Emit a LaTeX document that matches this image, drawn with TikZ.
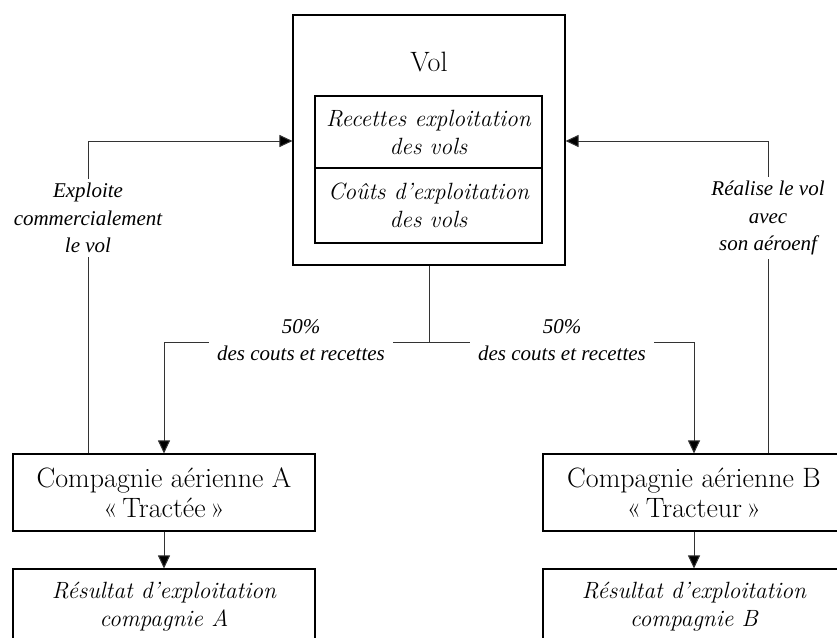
\documentclass[tikz,border=0pt]{standalone}
\usepackage{fontspec}
\newfontfamily\labfont{Liberation Serif Italic}
\usetikzlibrary{arrows.meta}
\begin{document}
\begin{tikzpicture}[x=1pt,y=-1pt,
  box/.style={draw=black,line width=1.1pt,inner sep=0pt,align=center},
  title/.style={font=\fontsize{28}{30}\selectfont,align=center,inner sep=0pt},
  itext/.style={font=\fontsize{23.5}{28}\selectfont\itshape,align=center},
  link/.style={draw=black!80,line width=1pt},
  arr/.style={link,-{Triangle[length=13pt,width=12pt,fill=black]}},
  lab/.style={fill=white,inner xsep=8pt,inner ysep=4pt,align=center,
    font=\labfont\fontsize{21}{27.5}\selectfont}]
\useasboundingbox (0,0) rectangle (837,637);

% flight block with its two accounts
\node[box,minimum width=272pt,minimum height=250pt] (vol) at (429,140) {};
\node[title] (voltitle) at (429,62) {Vol};
\node[box,itext,minimum width=227pt,minimum height=72pt] (rec) at (428.5,132)
  {Recettes exploitation\\des vols};
\node[box,itext,minimum width=227pt,minimum height=75pt] (cout) at (428.5,205.5)
  {Co\^uts d'exploitation\\des vols};

% airlines
\node[box,title,minimum width=302pt,minimum height=77pt] (a) at (164,492.5)
  {Compagnie a\'erienne A\\\guillemotleft\,Tract\'ee\,\guillemotright};
\node[box,title,minimum width=302pt,minimum height=77pt] (b) at (694,492.5)
  {Compagnie a\'erienne B\\\guillemotleft\,Tracteur\,\guillemotright};

% operating results
\node[box,minimum width=302pt,minimum height=90pt] (ra) at (164,614) {};
\node[itext] (rat) at (164,607) {R\'esultat d'exploitation\\compagnie A};
\node[box,minimum width=302pt,minimum height=90pt] (rb) at (694,614) {};
\node[itext] (rbt) at (694,607) {R\'esultat d'exploitation\\compagnie B};

% split of costs and revenues
\coordinate (j) at (429,342);
\draw[link] (vol.south) -- (j);
\draw[arr] (j) -| (a.north);
\draw[arr] (j) -| (b.north);
\node[lab] (la) at (301,340) {50\%\\des couts et recettes};
\node[lab] (lb) at (562,340) {50\%\\des couts et recettes};

% roles of the two airlines
\coordinate (ta) at (88,141);
\coordinate (tb) at (768,141);
\draw[arr] (a.north -| ta) -- (ta) -- (ta -| vol.west);
\draw[arr] (b.north -| tb) -- (tb) -- (tb -| vol.east);
\node[lab,inner xsep=2pt] (lc) at (88,218) {Exploite\\commercialement\\le vol};
\node[lab,inner xsep=2pt] (ld) at (768,218) {R\'ealise le vol\\avec\\son a\'eroenf};

% results follow from each airline
\draw[arr] (a.south) -- (ra.north);
\draw[arr] (b.south) -- (rb.north);
\end{tikzpicture}
\end{document}
